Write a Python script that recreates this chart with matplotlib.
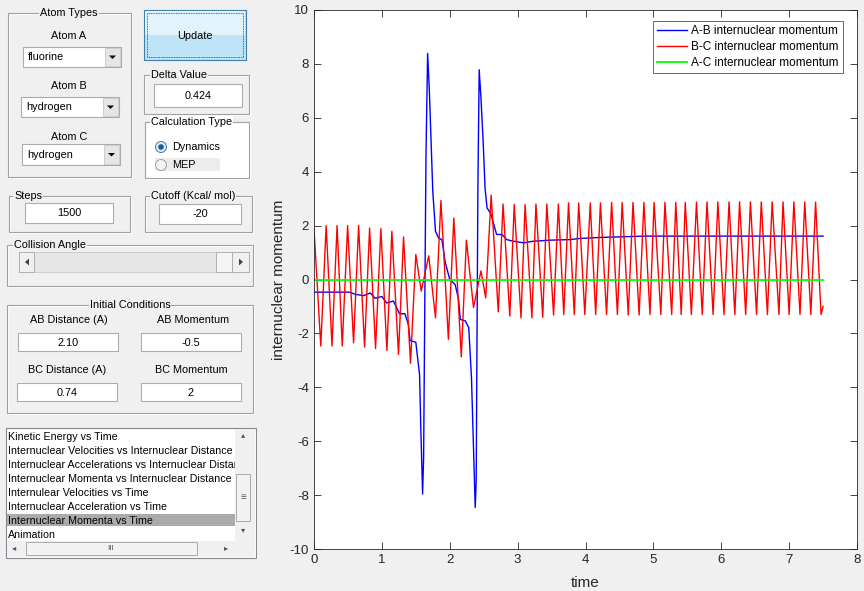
import matplotlib
matplotlib.use("Agg")
import matplotlib.pyplot as plt
from matplotlib.patches import Rectangle, Ellipse, Polygon

plt.rcParams['font.family'] = ['Liberation Sans', 'DejaVu Sans']
plt.rcParams['axes.unicode_minus'] = False

# ---------------- data ----------------
red_t = [0.0, 0.100, 0.179, 0.265, 0.340, 0.416, 0.495, 0.583, 0.657, 0.745, 0.819, 0.907,
         0.985, 1.074, 1.147, 1.245, 1.319, 1.422, 1.50, 1.58, 1.69, 1.79, 1.87, 1.98, 2.06,
         2.17, 2.245, 2.35, 2.46, 2.53, 2.61, 2.715, 2.785, 2.885, 2.95, 3.05, 3.11, 3.21,
         3.27, 3.37, 3.43, 3.53, 3.60, 3.68, 3.75, 3.835, 3.90, 3.99, 4.07, 4.15, 4.22, 4.31,
         4.385, 4.47, 4.54, 4.63, 4.70, 4.79, 4.86, 4.95, 5.01, 5.11, 5.17, 5.27, 5.33, 5.41,
         5.47, 5.56, 5.635, 5.72, 5.79, 5.88, 5.95, 6.04, 6.115, 6.20, 6.27, 6.36, 6.43, 6.52,
         6.59, 6.68, 6.75, 6.85, 6.91, 7.00, 7.07, 7.16, 7.23, 7.32, 7.39, 7.47, 7.50]
red_v = [1.9, -2.47, 2.0, -2.47, 2.0, -2.47, 2.0, -2.35, 2.0, -2.51, 1.91, -2.56,
         1.89, -2.63, 1.79, -2.78, 1.58, -3.11, 0.93, -0.43, 0.88, -1.42, 2.93, -2.22, 2.28,
         -2.87, 1.46, -1.04, 0.32, -0.68, 3.13, -1.2, 2.8, -1.36, 2.78, -1.42, 2.78, -1.42,
         2.8, -1.4, 2.8, -1.32, 2.8, -1.3, 2.84, -1.3, 2.84, -1.3, 2.84, -1.3, 2.84, -1.3,
         2.86, -1.3, 2.86, -1.32, 2.86, -1.32, 2.86, -1.3, 2.86, -1.3, 2.86, -1.3, 2.86, -1.3,
         2.86, -1.3, 2.87, -1.3, 2.88, -1.3, 2.88, -1.3, 2.88, -1.3, 2.88, -1.3, 2.88, -1.3,
         2.88, -1.3, 2.88, -1.3, 2.88, -1.3, 2.88, -1.3, 2.88, -1.3, 2.87, -1.3, -1.0]

blue_t = [0.0, 0.52, 0.61, 0.73, 0.83, 0.90, 1.0, 1.07, 1.17, 1.26, 1.34, 1.39, 1.415, 1.50,
          1.555, 1.576, 1.60, 1.615, 1.63, 1.65, 1.674, 1.70, 1.72, 1.75, 1.79, 1.835, 1.885,
          1.93, 2.0, 2.08, 2.13, 2.155, 2.23, 2.28, 2.32, 2.35, 2.375, 2.39, 2.40, 2.415,
          2.434, 2.46, 2.49, 2.52, 2.55, 2.60, 2.65, 2.69, 2.77, 2.84, 2.94, 3.09, 3.23,
          3.48, 3.77, 3.9, 4.2, 4.87, 7.5]
blue_v = [-0.47, -0.47, -0.55, -0.6, -0.5, -0.7, -0.63, -0.87, -0.8, -1.27, -1.27, -1.67,
          -2.26, -2.33, -3.52, -5.74, -7.96, -6.6, -1.67, 4.63, 8.39, 6.97, 5.49, 3.27, 1.79,
          1.54, 1.48, 0.68, 0.0, -0.19, -0.74, -1.48, -1.54, -1.79, -3.64, -6.24, -8.46,
          -7.47, -2.78, 3.52, 7.78, 6.73, 5.24, 3.39, 2.65, 2.47, 2.04, 1.67, 1.67, 1.48,
          1.42, 1.36, 1.42, 1.46, 1.48, 1.52, 1.56, 1.61, 1.61]

green_t = [0.0, 7.5]
green_v = [0.0, 0.0]

series_labels = ['A-B internuclear momentum', 'B-C internuclear momentum',
                 'A-C internuclear momentum']
x_ticks = [0, 1, 2, 3, 4, 5, 6, 7, 8]
y_ticks = [-10, -8, -6, -4, -2, 0, 2, 4, 6, 8, 10]

list_items = ['Kinetic Energy vs Time',
              'Internuclear Velocities vs Internuclear Distance',
              'Internuclear Accelerations vs Internuclear Distance',
              'Internuclear Momenta vs Internuclear Distance',
              'Internulear Velocities vs Time',
              'Internuclear Acceleration vs Time',
              'Internuclear Momenta vs Time',
              'Animation']

# ---------------- figure ----------------
W, H = 864, 591
BG = '#f0f0f0'
FS = 7.8
fig = plt.figure(figsize=(W / 100, H / 100), dpi=100, facecolor=BG)


def R(x0, y0, x1, y1, fc='none', ec='none', lw=0.75, z=1, **kw):
    fig.add_artist(Rectangle((x0 / W, 1 - y1 / H), (x1 - x0) / W, (y1 - y0) / H,
                             transform=fig.transFigure, fc=fc, ec=ec, lw=lw, zorder=z, **kw))


def T(x, y, s, ha='left', size=FS, color='black', z=5, **kw):
    fig.text(x / W, 1 - y / H, s, ha=ha, va='center', fontsize=size, color=color,
             zorder=z, **kw)


def circ(x, y, r, **kw):
    fig.add_artist(Ellipse((x / W, 1 - y / H), 2 * r / W, 2 * r / H,
                           transform=fig.transFigure, **kw))


def panel(x0, y0, x1, y1, title=None, tx=None, ha='left', fc=None):
    if fc:
        R(x0, y0, x1, y1, fc=fc, z=1)
    R(x0 + 1, y0 + 1, x1 + 1, y1 + 1, ec='white', lw=0.8, z=2)
    R(x0, y0, x1, y1, ec='#a0a0a0', lw=0.8, z=2)
    if title:
        T(tx, y0, title, ha=ha, z=6,
          bbox=dict(fc=BG if not fc else fc, ec='none', pad=0.8))


def editbox(x0, y0, x1, y1, txt):
    R(x0, y0, x1, y1, fc='white', ec='#abadb3', lw=0.8, z=3)
    T((x0 + x1) / 2, (y0 + y1) / 2 + 0.5, txt, ha='center')


def dropdown(x0, y0, x1, y1, txt):
    R(x0, y0, x1, y1, fc='white', ec='#acacac', lw=0.8, z=3)
    R(x1 - 16, y0 + 1, x1 - 1, y1 - 1, fc='#e5e5e5', ec='#c8c8c8', lw=0.6, z=4)
    cx, cy = x1 - 8.5, (y0 + y1) / 2
    fig.add_artist(Polygon([((cx - 3.5) / W, 1 - (cy - 1.5) / H), ((cx + 3.5) / W, 1 - (cy - 1.5) / H),
                            (cx / W, 1 - (cy + 2) / H)], closed=True, transform=fig.transFigure,
                           fc='black', ec='none', zorder=5))
    T(x0 + 5, (y0 + y1) / 2 + 0.5, txt)


# Atom types panel
panel(8, 13, 131, 177, 'Atom Types', 69, ha='center')
T(69, 36, 'Atom A', ha='center')
dropdown(23, 47, 121, 67, 'fluorine')
T(69, 86, 'Atom B', ha='center')
dropdown(21, 97, 119, 117, 'hydrogen')
T(69, 137, 'Atom C', ha='center')
dropdown(22, 144, 120, 165, 'hydrogen')

# Update button
R(144, 10, 246, 60, fc='#bfe3f7', ec='#3c7fb1', lw=0.8, z=3)
R(145, 11, 245, 35, fc='#e3f3fc', ec='none', z=3)
R(147, 13, 243, 57, fc='none', ec='#333333', lw=0.6, z=4, ls=(0, (1, 1)))
T(195, 36, 'Update', ha='center')

# Delta value
panel(144, 75, 249, 114, 'Delta Value', 151)
editbox(154, 84, 242, 107, '0.424')

# Calculation type
panel(145, 122, 249, 178, 'Calculation Type', 151, fc='white')
R(155, 158, 220, 171, fc='#ececec', z=3)
circ(161, 147, 5.5, fc='#dde9f3', ec='#3c7fb1', lw=0.7, zorder=5)
circ(161, 147, 2.8, fc='#1a5a96', ec='none', zorder=6)
circ(161, 165, 5.5, fc='#f2f2f2', ec='#a0a0a0', lw=0.7, zorder=5)
T(172, 147, 'Dynamics')
T(172, 165, 'MEP')

# Steps / Cutoff
panel(9, 196, 130, 232, 'Steps', 14)
editbox(25, 203, 113, 223, '1500')
panel(145, 196, 252, 232, 'Cutoff (Kcal/ mol)', 151)
editbox(159, 204, 241, 224, '-20')

# Collision angle
panel(7, 245, 253, 286, 'Collision Angle', 14)
R(19, 252, 249, 272, fc='#e6e6e6', ec='#c8c8c8', lw=0.6, z=3)
R(19, 252, 34, 272, fc='#f0f0f0', ec='#a8a8a8', lw=0.6, z=4)
R(216, 252, 232, 272, fc='#f5f5f5', ec='#a8a8a8', lw=0.6, z=4)
R(232, 252, 249, 272, fc='#f0f0f0', ec='#a8a8a8', lw=0.6, z=4)
fig.add_artist(Polygon([(29 / W, 1 - 258.5 / H), (29 / W, 1 - 265.5 / H), (25 / W, 1 - 262 / H)],
                       transform=fig.transFigure, fc='#444444', ec='none', zorder=5))
fig.add_artist(Polygon([(239 / W, 1 - 258.5 / H), (239 / W, 1 - 265.5 / H), (243 / W, 1 - 262 / H)],
                       transform=fig.transFigure, fc='#444444', ec='none', zorder=5))

# Initial conditions
panel(7, 305, 253, 413, 'Initial Conditions', 130, ha='center')
T(69, 320, 'AB Distance (A)', ha='center')
T(193, 320, 'AB Momentum', ha='center')
editbox(18, 333, 118, 351, '2.10')
editbox(141, 333, 241, 351, '-0.5')
T(67, 370, 'BC Distance (A)', ha='center')
T(191, 370, 'BC Momentum', ha='center')
editbox(17, 383, 117, 401, '0.74')
editbox(141, 383, 241, 401, '2')

# List box
R(6, 428, 256, 558, fc='white', ec='#828790', lw=0.8, z=2)
R(7, 514, 235, 526, fc='#ababab', z=3)
for i, item in enumerate(list_items):
    T(8, 437.5 + i * 13.95, item, size=7.7, z=4)
R(235, 429, 255, 428 + 113, fc='#f0f0f0', z=6)
R(236, 474, 250, 521, fc='#f2f2f2', ec='#a0a0a0', lw=0.6, z=7)
T(243, 497, '≡', ha='center', size=7, color='#555555', z=8)
T(243, 436, '▴', ha='center', size=6, color='#555555', z=8)
T(243, 531, '▾', ha='center', size=6, color='#555555', z=8)
R(7, 541, 255, 557, fc='#f0f0f0', z=6)
R(26, 542, 197, 555, fc='#f2f2f2', ec='#a0a0a0', lw=0.6, z=7)
T(111, 548.5, 'III', ha='center', size=6, color='#555555', z=8)
T(14, 548.5, '◂', ha='center', size=6, color='#555555', z=8)
T(226, 548.5, '▸', ha='center', size=6, color='#555555', z=8)
R(256.5, 428, 300, 560, fc=BG, z=9)

# ---------------- axes ----------------
ax = fig.add_axes([314 / W, 1 - 549 / H, (857 - 314) / W, (549 - 10) / H])
ax.set_zorder(10)
ax.set_facecolor('white')
ax.plot(blue_t, blue_v, color='#0000ff', lw=1.0, label=series_labels[0])
ax.plot(red_t, red_v, color='#ff0000', lw=1.0, label=series_labels[1])
ax.plot(green_t, green_v, color='#00ff00', lw=1.3, label=series_labels[2])
ax.set_xlim(0, 8)
ax.set_ylim(-10, 10)
ax.set_xticks(x_ticks)
ax.set_yticks(y_ticks)
ax.tick_params(direction='in', top=True, right=True, labelsize=9.5, length=5,
               colors='#262626', width=0.6)
for s in ax.spines.values():
    s.set_color('#262626')
    s.set_linewidth(0.6)
ax.set_xlabel('time', fontsize=11, color='#262626', labelpad=7)
ax.set_ylabel('internuclear momentum', fontsize=11, color='#262626')
ax.yaxis.set_label_coords(-0.052, 0.5)
leg = ax.legend(loc='upper right', bbox_to_anchor=((843 - 314) / 543, (549 - 21) / 539),
                borderaxespad=0, fontsize=8.5, frameon=True, fancybox=False,
                handlelength=2.55, handletextpad=0.35, labelspacing=0.32, borderpad=0.35)
leg.get_frame().set_edgecolor('#262626')
leg.get_frame().set_linewidth(0.6)

fig.savefig('out.png', dpi=100, facecolor=BG)
